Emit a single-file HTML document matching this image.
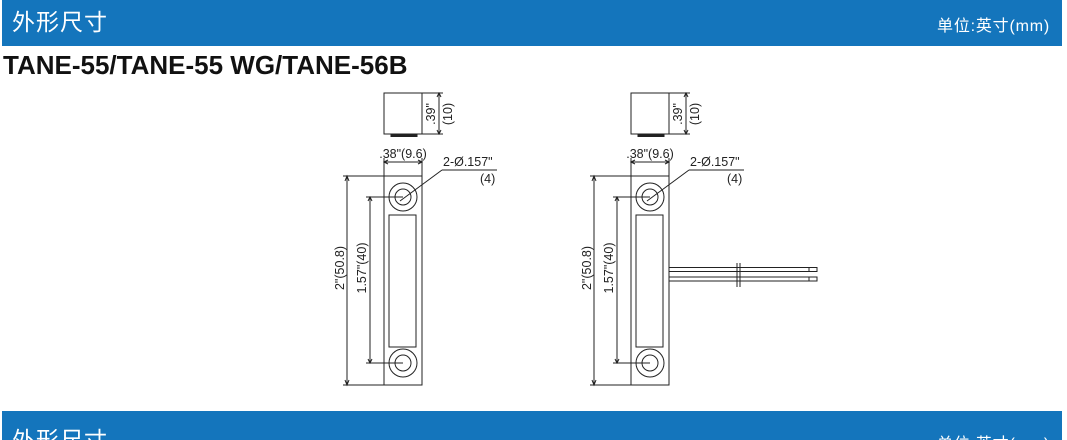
<!DOCTYPE html>
<html><head><meta charset="utf-8"><style>
html,body{margin:0;padding:0;background:#fff;width:1067px;height:440px;overflow:hidden;position:relative;font-family:"Liberation Sans","Noto Sans CJK SC",sans-serif}
.bar{position:absolute;left:2px;width:1060px;background:#1475bc;color:#fff}
.t{position:absolute;left:10px;font-size:23px;font-family:"Noto Sans CJK SC","WenQuanYi Zen Hei",sans-serif;letter-spacing:1px}
.u{position:absolute;right:12px;font-size:16px;letter-spacing:0.8px;font-family:"Liberation Sans","Noto Sans CJK SC",sans-serif}
h1{position:absolute;left:3px;top:50px;margin:0;font-size:26px;font-weight:bold;color:#111;letter-spacing:0}
svg{position:absolute;left:0;top:0}
</style></head><body>
<div class="bar" style="top:0;height:46px"><span class="t" style="top:3px">外形尺寸</span><span class="u" style="top:12px">单位:英寸(mm)</span></div>
<h1>TANE-55/TANE-55 WG/TANE-56B</h1>
<div class="bar" style="top:411px;height:29px"><span class="t" style="top:10px">外形尺寸</span><span class="u" style="top:19px">单位:英寸(mm)</span></div>
<svg width="1067" height="440" viewBox="0 0 1067 440" font-family="Liberation Sans, sans-serif" font-size="12.5" fill="none" stroke="#222" stroke-width="1">
<defs>
<g id="dev">
 <rect x="384" y="93" width="38" height="41"/>
 <rect x="391" y="134" width="26" height="2.5" fill="#222"/>
 <line x1="422" y1="93" x2="443" y2="93"/><line x1="422" y1="134" x2="443" y2="134"/>
 <line x1="439" y1="94" x2="439" y2="133"/>
 <path d="M437 97 L439 93 L441 97 M437 130 L439 134 L441 130" />
 <text x="0" y="0" transform="translate(435,114) rotate(-90)" text-anchor="middle" fill="#222" stroke="none">.39"</text>
 <text x="0" y="0" transform="translate(452,114) rotate(-90)" text-anchor="middle" fill="#222" stroke="none">(10)</text>
 <line x1="384" y1="158" x2="384" y2="176"/><line x1="422" y1="158" x2="422" y2="176"/>
 <line x1="385" y1="162" x2="421" y2="162"/>
 <path d="M388 160 L384 162 L388 164 M418 160 L422 162 L418 164"/>
 <text x="403" y="158" text-anchor="middle" fill="#222" stroke="none">.38"(9.6)</text>
 <rect x="384" y="176" width="38" height="209"/>
 <circle cx="403" cy="197" r="14"/><circle cx="403" cy="197" r="8"/>
 <circle cx="403" cy="363" r="14"/><circle cx="403" cy="363" r="8"/>
 <rect x="389" y="215" width="27" height="132"/>
 <line x1="343" y1="176" x2="384" y2="176"/><line x1="343" y1="385" x2="384" y2="385"/>
 <line x1="347" y1="177" x2="347" y2="384"/>
 <path d="M345 181 L347 176 L349 181 M345 380 L347 385 L349 380"/>
 <line x1="366" y1="197" x2="403" y2="197"/><line x1="366" y1="363" x2="403" y2="363"/>
 <line x1="370" y1="198" x2="370" y2="362"/>
 <path d="M368 201 L370 197 L372 201 M368 359 L370 363 L372 359"/>
 <text transform="translate(344,268) rotate(-90)" text-anchor="middle" fill="#222" stroke="none">2"(50.8)</text>
 <text transform="translate(366,268) rotate(-90)" text-anchor="middle" fill="#222" stroke="none">1.57"(40)</text>
 <line x1="400" y1="201" x2="442" y2="170"/><line x1="442" y1="170" x2="497" y2="170"/>
 <text x="443" y="166" fill="#222" stroke="none">2-Ø.157"</text>
 <text x="480" y="183" fill="#222" stroke="none">(4)</text>
</g>
</defs>
<use href="#dev"/>
<use href="#dev" transform="translate(247,0)"/>
<g>
 <line x1="669" y1="267.5" x2="809" y2="267.5"/><line x1="669" y1="271.5" x2="809" y2="271.5"/>
 <line x1="669" y1="277" x2="809" y2="277"/><line x1="669" y1="281" x2="809" y2="281"/>
 <rect x="809" y="267.5" width="8" height="4"/><rect x="809" y="277" width="8" height="4"/>
 <line x1="737" y1="263" x2="737" y2="287"/><line x1="740" y1="263" x2="740" y2="287"/>
</g>
</svg>
</body></html>
